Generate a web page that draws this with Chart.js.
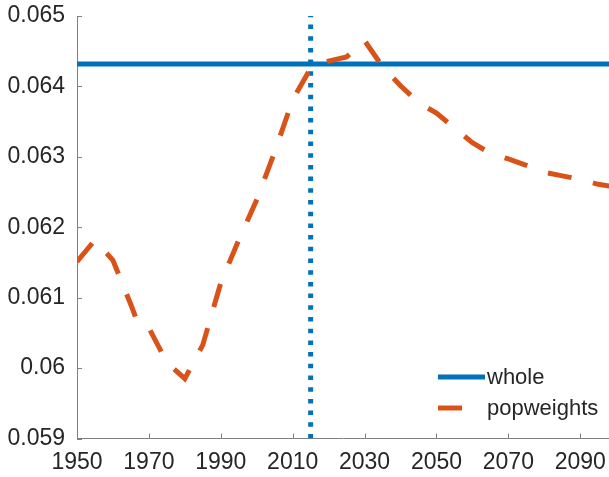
<!DOCTYPE html>
<html>
<head>
<meta charset="utf-8">
<script src="https://cdn.jsdelivr.net/npm/chart.js@4"></script>
<style>
  html, body { margin: 0; padding: 0; background: #fff; }
  #wrap { width: 609px; height: 477px; position: relative; }
</style>
</head>
<body>
<div id="wrap"><canvas id="chart"></canvas></div>
<script>
(function() {
    "use strict";

    var years = [1950, 1955, 1960, 1965, 1967, 1970, 1975, 1980, 1985, 1990, 1995, 2000, 2005, 2010, 2015,
                 2020, 2025, 2030, 2035, 2040, 2045, 2050, 2055, 2060, 2065, 2070, 2075, 2080, 2085, 2090, 2095, 2100];
    var popweights = [0.06151, 0.06182, 0.06153, 0.06090, 0.06063, 0.06057, 0.06008, 0.05985, 0.06033, 0.06121, 0.06182,
                      0.06239, 0.06307, 0.06381, 0.06426, 0.06436, 0.06442, 0.06465, 0.06428, 0.06401, 0.06377,
                      0.06362, 0.06341, 0.06320, 0.06305, 0.06297, 0.06288, 0.06278, 0.06273, 0.06268, 0.06261, 0.06257];
    var wholeValue = 0.06432;
    var markerYear = 2015;
    var xTicks = [1950, 1970, 1990, 2010, 2030, 2050, 2070, 2090];
    var yTicks = [0.059, 0.06, 0.061, 0.062, 0.063, 0.064, 0.065];
    var yTickLabels = ['0.059', '0.06', '0.061', '0.062', '0.063', '0.064', '0.065'];

    var blue = '#0072BD';
    var orange = '#D95319';
    var font = { family: 'Liberation Sans, Arial, sans-serif', size: 23 };

    var popData = years.map(function(y, i) { return { x: y, y: popweights[i] }; });
    var wholeData = [{ x: 1950, y: wholeValue }, { x: 2100, y: wholeValue }];
    var markerData = [{ x: markerYear, y: 0.059 }, { x: markerYear, y: 0.065 }];

    // matlab style ticks pointing into the plot
    var innerTicks = {
        id: 'innerTicks',
        afterDatasetsDraw: function(chart) {
            var ctx = chart.ctx, a = chart.chartArea;
            var xs = chart.scales.x, ys = chart.scales.y;
            ctx.save();
            ctx.strokeStyle = '#808080';
            ctx.lineWidth = 1;
            ctx.beginPath();
            xTicks.forEach(function(v) {
                var px = Math.round(xs.getPixelForValue(v)) + 0.5;
                ctx.moveTo(px, a.bottom);
                ctx.lineTo(px, a.bottom - 5);
            });
            yTicks.forEach(function(v) {
                var py = Math.round(ys.getPixelForValue(v)) + 0.5;
                ctx.moveTo(a.left, py);
                ctx.lineTo(a.left + 5, py);
            });
            ctx.stroke();
            ctx.restore();
        }
    };

    var legendBox = {
        id: 'legendBox',
        afterDraw: function(chart) {
            var ctx = chart.ctx;
            ctx.save();
            ctx.font = '22px ' + font.family;
            ctx.fillStyle = '#262626';
            ctx.textBaseline = 'middle';
            ctx.lineCap = 'butt';
            ctx.lineWidth = 5;
            ctx.strokeStyle = blue;
            ctx.beginPath();
            ctx.moveTo(438, 377);
            ctx.lineTo(485, 377);
            ctx.stroke();
            ctx.fillText('whole', 487, 378);
            ctx.strokeStyle = orange;
            ctx.beginPath();
            ctx.moveTo(438, 408);
            ctx.lineTo(462, 408);
            ctx.stroke();
            ctx.fillText('popweights', 487, 409);
            ctx.restore();
        }
    };

    new Chart(document.getElementById('chart'), {
        type: 'line',
        data: {
            datasets: [{
                label: 'whole',
                data: wholeData,
                borderColor: blue,
                borderWidth: 5,
                pointRadius: 0,
                order: 3,
            }, {
                label: 'marker',
                data: markerData,
                borderColor: blue,
                borderWidth: 5,
                borderDash: [4.5, 7.2],
                borderCapStyle: 'butt',
                pointRadius: 0,
                order: 2,
            }, {
                label: 'popweights',
                data: popData,
                borderColor: orange,
                borderWidth: 5,
                borderDash: [24, 22],
                borderCapStyle: 'butt',
                pointRadius: 0,
                order: 1,
            }]
        },
        options: {
            responsive: true,
            maintainAspectRatio: false,
            animation: false,
            layout: { padding: { top: 16, right: 0, left: 0, bottom: 0 } },
            plugins: {
                legend: { display: false },
                tooltip: { enabled: false },
            },
            scales: {
                x: {
                    type: 'linear',
                    min: 1950,
                    max: 2098,
                    afterBuildTicks: function(scale) {
                        scale.ticks = xTicks.map(function(v) { return { value: v }; });
                    },
                    afterFit: function(scale) {
                        scale.height = 38.5;
                        scale.paddingLeft = 0;
                        scale.paddingRight = 0;
                    },
                    ticks: {
                        color: '#262626',
                        font: font,
                        maxRotation: 0,
                        autoSkip: false,
                        padding: 10,
                        callback: function(v) { return String(v); },
                    },
                    grid: { display: false, drawTicks: false },
                    border: { color: '#808080', width: 1 },
                },
                y: {
                    min: 0.059,
                    max: 0.065,
                    afterBuildTicks: function(scale) {
                        scale.ticks = yTicks.map(function(v) { return { value: v }; });
                    },
                    afterFit: function(scale) {
                        scale.width = 77;
                        scale.paddingTop = 0;
                        scale.paddingBottom = 0;
                    },
                    ticks: {
                        color: '#262626',
                        font: font,
                        padding: 12,
                        callback: function(v) {
                            var i = yTicks.findIndex(function(t) { return Math.abs(t - v) < 1e-9; });
                            return i >= 0 ? yTickLabels[i] : '';
                        },
                    },
                    grid: { display: false, drawTicks: false },
                    border: { color: '#808080', width: 1 },
                },
            },
        },
        plugins: [innerTicks, legendBox],
    });
})();
</script>
</body>
</html>
